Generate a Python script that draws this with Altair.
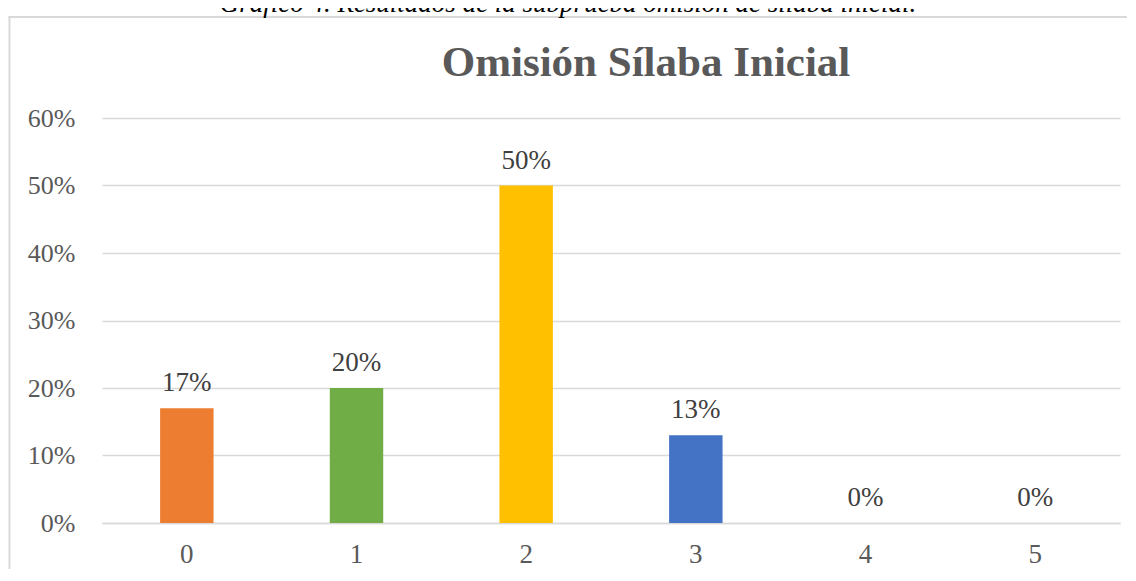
import altair as alt
import pandas as pd

categories = ["0", "1", "2", "3", "4", "5"]
values = [0.17, 0.20, 0.50, 0.13, 0.0, 0.0]
bar_colors = ["#ED7D31", "#70AD47", "#FFC000", "#4472C4", "#A5A5A5", "#5B9BD5"]
y_ticks = [0.0, 0.1, 0.2, 0.3, 0.4, 0.5, 0.6]
title_text = "Omisión Sílaba Inicial"
caption_text = "Gráfico 4. Resultados de la subprueba omisión de sílaba inicial."

FONT = "Liberation Serif"
df = pd.DataFrame({"cat": categories, "val": values})

x_enc = alt.X(
    "cat:N",
    sort=categories,
    scale=alt.Scale(paddingInner=0.685, paddingOuter=0.3425),
    axis=alt.Axis(
        title=None, labelAngle=0, labelFontSize=27, labelColor="#595959",
        labelFont=FONT, ticks=False, domainColor="#d9d9d9", domainWidth=1.5,
        labelPadding=18, grid=False,
    ),
)
y_enc = alt.Y(
    "val:Q",
    scale=alt.Scale(domain=[0, 0.6]),
    axis=alt.Axis(
        title=None, values=y_ticks, format=".0%", labelFontSize=26,
        labelColor="#595959", labelFont=FONT, ticks=False, domain=False,
        gridColor="#d9d9d9", gridWidth=1.3, labelPadding=27,
    ),
)

one = pd.DataFrame({"k": [0]})
border_top = alt.Chart(one).mark_rule(color="#d9d9d9", strokeWidth=2).encode(
    x=alt.value(-93.5), x2=alt.value(1025), y=alt.value(-101)
)
border_left = alt.Chart(one).mark_rule(color="#d9d9d9", strokeWidth=2).encode(
    x=alt.value(-92.5), y=alt.value(-102), y2=alt.value(470)
)

caption = alt.Chart(pd.DataFrame({"t": [caption_text]})).mark_text(
    font=FONT, fontSize=27, fontStyle="italic", color="#000000",
    align="center", baseline="alphabetic",
).encode(x=alt.value(466), y=alt.value(-106), text="t:N")

title = alt.Chart(pd.DataFrame({"t": [title_text]})).mark_text(
    font=FONT, fontSize=43, fontWeight="bold", color="#595959",
    align="center", baseline="alphabetic",
).encode(x=alt.value(544), y=alt.value(-42), text="t:N")

base = alt.Chart(df)
bars = base.mark_bar().encode(
    x=x_enc,
    y=y_enc,
    color=alt.Color("cat:N", scale=alt.Scale(domain=categories, range=bar_colors), legend=None),
)
labels = base.mark_text(
    font=FONT, fontSize=27, color="#404040", dy=-17, baseline="alphabetic", align="center"
).encode(
    x=alt.X("cat:N", sort=categories),
    y=alt.Y("val:Q"),
    text=alt.Text("val:Q", format=".0%"),
)

chart = alt.layer(border_top, border_left, bars, labels, caption, title).properties(
    width=1018,
    height=405,
    padding={"left": 94, "top": 110, "right": 8, "bottom": 46},
    autosize=alt.AutoSizeParams(type="none"),
).configure_view(stroke=None)

chart.save("out.html", embed_options={"renderer": "svg", "actions": False})
